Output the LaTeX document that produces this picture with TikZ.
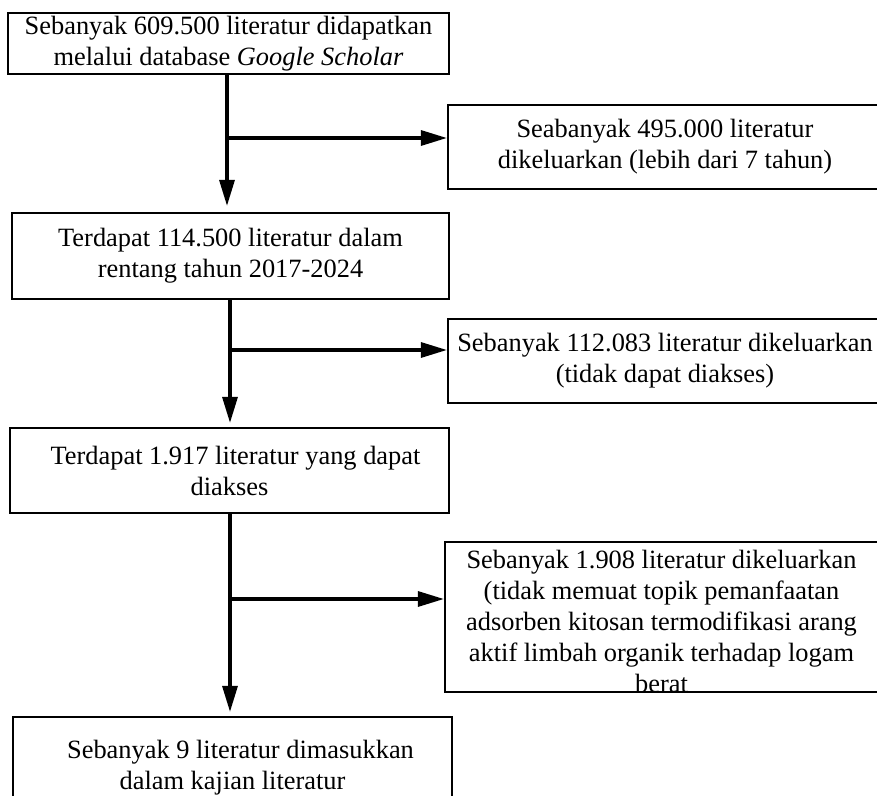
\documentclass[tikz,border=0pt]{standalone}
\usepackage{fontspec}
\setmainfont{Liberation Serif}
\usepackage{tikz}
\usetikzlibrary{arrows.meta}

\tikzset{
    stepbox/.style = {draw=black, line width=1.1pt, align=center, inner sep=0pt,
                      font=\fontsize{13.2}{15.5}\selectfont},
    boxtext/.style = {align=center, inner sep=0pt, font=\fontsize{13.2}{15.5}\selectfont},
    flow/.style    = {line width=1.6pt, -{Triangle[length=13pt, width=7.5pt]}},
}

\begin{document}
\begin{tikzpicture}[x=0.5pt, y=-0.5pt]
            \useasboundingbox (0,0) rectangle (877,796);
            \clip             (0,0) rectangle (877,796);
            % left column
            \node[stepbox, minimum width=220.5pt, minimum height=30.5pt] (found)    at (228.5,  43.5)
                 {Sebanyak 609.500 literatur didapatkan\\melalui database \textit{Google Scholar}};
            \node[stepbox, minimum width=218.5pt, minimum height=43pt]   (range)    at (230.5, 256.0)
                 {Terdapat 114.500 literatur dalam\\rentang tahun 2017-2024};
            \node[stepbox, minimum width=219.5pt, minimum height=42.5pt] (access)   at (229.5, 470.5)
                 {\hspace*{6pt}Terdapat 1.917 literatur yang dapat\\diakses};
            \node[stepbox, minimum width=219.5pt, minimum height=51pt]   (included) at (232.5, 768.0)
                 {\hspace*{8pt}Sebanyak 9 literatur dimasukkan\\dalam kajian literatur};
            % right column (right edges run off the page)
            \node[stepbox, minimum width=217pt,   minimum height=42pt]   (outyear)  at (665.0, 147.0)
                 {Seabanyak 495.000 literatur\\dikeluarkan (lebih dari 7 tahun)};
            \node[stepbox, minimum width=217pt,   minimum height=42pt]   (outaccess) at (665.0, 361.0)
                 {Sebanyak 112.083 literatur dikeluarkan\\(tidak dapat diakses)};
            \node[stepbox, minimum width=218.5pt, minimum height=75pt]   (outtopic) at (663.5, 617.0) {};
            \node[boxtext] (outtopictext) at ([xshift=-1pt, yshift=-2pt]outtopic.center)
                 {Sebanyak 1.908 literatur dikeluarkan\\(tidak memuat topik pemanfaatan\\adsorben kitosan termodifikasi arang\\aktif limbah organik terhadap logam\\berat};
            % branch points
            \coordinate (split1) at (227, 138);
            \coordinate (split2) at (230, 350);
            \coordinate (split3) at (230, 599);
            % connectors
            \draw[flow] (split1 |- found.south)  -- ([yshift=3pt]split1 |- range.north);
            \draw[flow] (split1)                 -- (split1 -| outyear.west);
            \draw[flow] (split2 |- range.south)  -- ([yshift=2pt]split2 |- access.north);
            \draw[flow] (split2)                 -- (split2 -| outaccess.west);
            \draw[flow] (split3 |- access.south) -- ([yshift=2pt]split3 |- included.north);
            \draw[flow] (split3)                 -- (split3 -| outtopic.west);
        \end{tikzpicture}
\end{document}
